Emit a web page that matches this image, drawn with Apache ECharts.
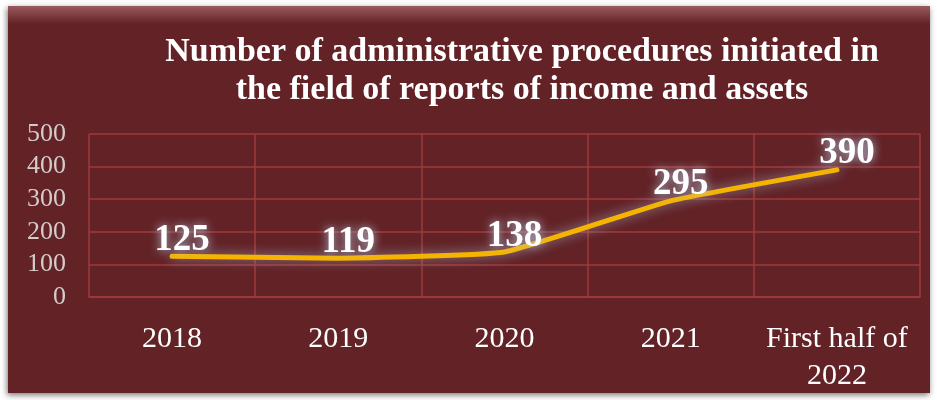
<!DOCTYPE html>
<html>
<head>
<meta charset="utf-8">
<script src="https://cdn.jsdelivr.net/npm/echarts@6/dist/echarts.min.js"></script>
<style>
  html, body { margin: 0; padding: 0; background: #fff; }
  #chart { width: 937px; height: 400px; }
</style>
</head>
<body>
<div id="chart"></div>
<script>
// data
var categories = ['2018', '2019', '2020', '2021', 'First half of\n2022'];
var procedures = [125, 119, 138, 295, 390];
var yTicks = [0, 100, 200, 300, 400, 500];

var chart = echarts.init(document.getElementById('chart'));

var gridColor = '#a03a3c';

var option = {
    backgroundColor: '#ffffff',
    animation: false,
    graphic: [
        {
            type: 'rect',
            z: -10,
            shape: { x: 8, y: 6, width: 922, height: 387 },
            style: {
                fill: '#622226',
                shadowColor: 'rgba(0,0,0,0.55)',
                shadowBlur: 6,
                shadowOffsetX: -1,
                shadowOffsetY: 2
            }
        },
        {
            type: 'rect',
            z: -9,
            shape: { x: 8, y: 6, width: 922, height: 18 },
            style: {
                fill: new echarts.graphic.LinearGradient(0, 0, 0, 1, [
                    { offset: 0, color: '#9a5a5e' },
                    { offset: 1, color: '#622226' }
                ])
            }
        }
    ],
    title: {
        text: 'Number of administrative procedures initiated in\nthe field of reports of income and assets',
        left: 517,
        top: 28,
        textAlign: 'center',
        textStyle: {
            color: '#ffffff',
            fontFamily: 'Liberation Serif',
            fontWeight: 'bold',
            fontSize: 34,
            lineHeight: 38
        }
    },
    grid: {
        left: 89,
        right: 17,
        top: 134,
        bottom: 103
    },
    xAxis: {
        type: 'category',
        data: categories,
        boundaryGap: true,
        axisLine: { show: true, lineStyle: { color: gridColor, width: 1.5 } },
        axisTick: { show: false },
        splitLine: { show: true, interval: 0, lineStyle: { color: gridColor, width: 1.5 } },
        axisLabel: {
            interval: 0,
            color: '#ffffff',
            fontFamily: 'Liberation Serif',
            fontSize: 30,
            lineHeight: 37,
            margin: 24
        }
    },
    yAxis: {
        type: 'value',
        min: yTicks[0],
        max: yTicks[yTicks.length - 1],
        interval: 100,
        axisLine: { show: false },
        axisTick: { show: false },
        splitLine: { show: true, lineStyle: { color: gridColor, width: 1.5 } },
        axisLabel: {
            color: '#d4cccc',
            fontFamily: 'Liberation Serif',
            fontSize: 26,
            margin: 23
        }
    },
    series: [
        {
            name: 'Procedures',
            type: 'line',
            data: procedures,
            smooth: 0.12,
            symbol: 'circle',
            symbolSize: 1,
            showSymbol: true,
            itemStyle: { color: 'rgba(0,0,0,0)' },
            lineStyle: {
                color: '#f5b400',
                width: 5,
                cap: 'round',
                shadowColor: 'rgba(170,185,205,0.75)',
                shadowBlur: 12
            },
            label: {
                show: true,
                position: 'top',
                distance: 1,
                offset: [10, 4],
                color: '#ffffff',
                fontFamily: 'Liberation Serif',
                fontWeight: 'bold',
                fontSize: 37,
                textShadowColor: 'rgba(180,198,222,1)',
                textShadowBlur: 10
            }
        }
    ]
};

chart.setOption(option);
</script>
</body>
</html>
